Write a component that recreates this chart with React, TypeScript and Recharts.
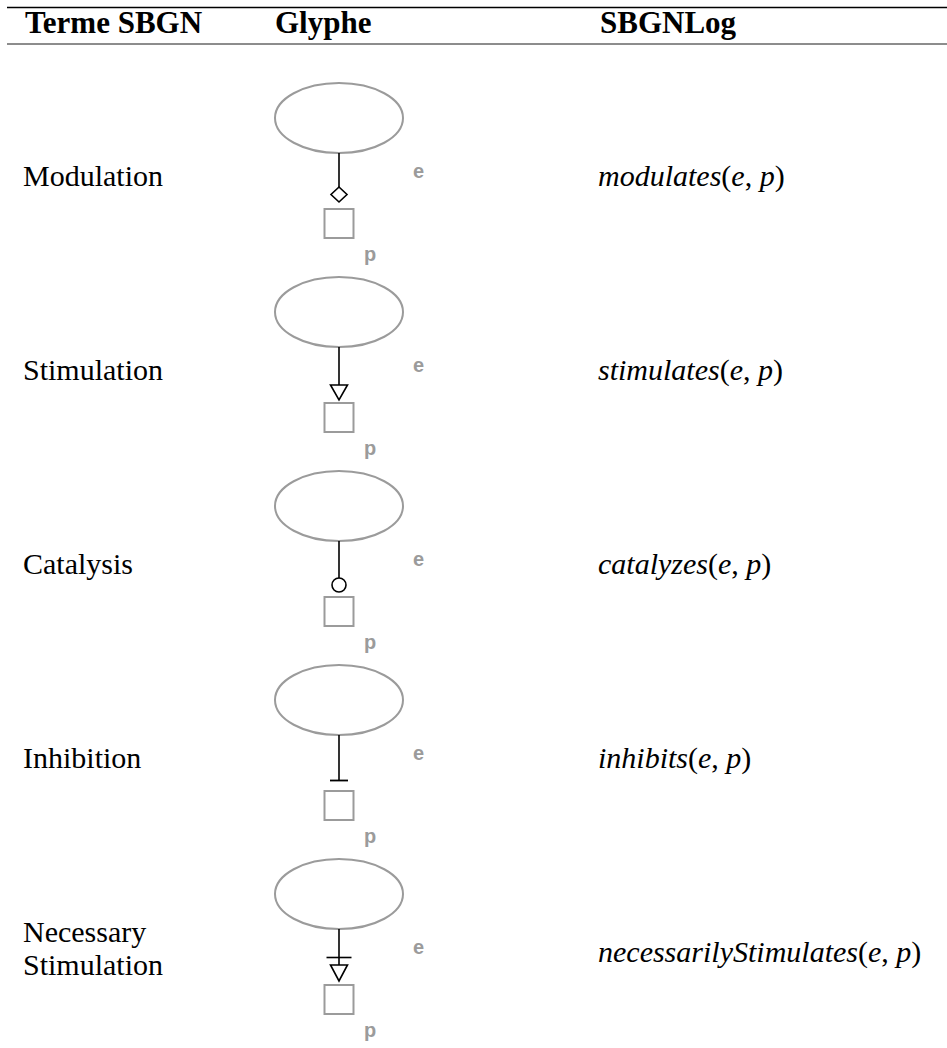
import React from "react";
import { ScatterChart, Scatter, XAxis, YAxis } from "recharts";

// table content
const headers = ["Terme SBGN", "Glyphe", "SBGNLog"];
const termLines = [
  ["Modulation"],
  ["Stimulation"],
  ["Catalysis"],
  ["Inhibition"],
  ["Necessary", "Stimulation"],
];
const predicates = ["modulates", "stimulates", "catalyzes", "inhibits", "necessarilyStimulates"];
const arcEnds = ["diamond", "triangle", "circle", "bar", "barTriangle"];
const argNames = ["e", "p"];

// layout
const W = 947;
const H = 1048;
const HEAD_H = 44;
const ROW_TOP = 118; // centre of first ellipse
const ROW_STEP = 194;
const HEAD_X = [25, 275, 600];
const COL_X = [23, 339, 598];
const SERIF = "'Liberation Serif', 'DejaVu Serif', serif";
const SANS = "'Liberation Sans', Arial, sans-serif";
const GRAY = "#9b9b9b";

const yDomain = [
  -(ROW_TOP - HEAD_H) / ROW_STEP,
  -(ROW_TOP - HEAD_H) / ROW_STEP + (H - HEAD_H) / ROW_STEP,
];

const rows = predicates.map((p, i) => ({ row: i, lines: termLines[i], pred: p, end: arcEnds[i] }));
const termData = rows.map((r) => ({ ...r, x: COL_X[0] }));
const glyphData = rows.map((r) => ({ ...r, x: COL_X[1] }));
const logData = rows.map((r) => ({ ...r, x: COL_X[2] }));

function HeaderTick(props: any) {
  const { x, index } = props;
  return (
    <g>
      {index === 0 && <line x1={7} x2={W} y1={7.5} y2={7.5} stroke="#000" strokeWidth={1.4} />}
      <text x={x} y={33} fontFamily={SERIF} fontWeight="bold" fontSize={31} fill="#000">
        {headers[index]}
      </text>
    </g>
  );
}

function TermShape(props: any) {
  const { cx, cy, payload } = props;
  const lines: string[] = payload.lines;
  const base = lines.length > 1 ? cy + 48 : cy + 68;
  return (
    <text x={cx} y={base} fontFamily={SERIF} fontSize={30} fill="#000">
      {lines.map((l, i) => (
        <tspan key={i} x={cx} dy={i === 0 ? 0 : 33}>{l}</tspan>
      ))}
    </text>
  );
}

function LogShape(props: any) {
  const { cx, cy, payload } = props;
  return (
    <text x={cx} y={cy + 68} fontFamily={SERIF} fontSize={30} fill="#000">
      <tspan fontStyle="italic">{payload.pred}</tspan>
      <tspan>(</tspan>
      <tspan fontStyle="italic">{argNames[0]}</tspan>
      <tspan>, </tspan>
      <tspan fontStyle="italic">{argNames[1]}</tspan>
      <tspan>)</tspan>
    </text>
  );
}

function GlyphShape(props: any) {
  const { cx, cy, payload } = props;
  const end: string = payload.end;
  const stemStart = cy + 35;
  let stemEnd = cy + 72;
  let marker: React.ReactNode = null;
  const ink = { stroke: "#000", strokeWidth: 1.6, fill: "#fff" };
  if (end === "diamond") {
    stemEnd = cy + 69;
    marker = (
      <polygon points={`${cx},${cy + 69} ${cx + 8},${cy + 76.5} ${cx},${cy + 84} ${cx - 8},${cy + 76.5}`} {...ink} />
    );
  } else if (end === "triangle") {
    stemEnd = cy + 73;
    marker = <polygon points={`${cx - 8.5},${cy + 73} ${cx + 8.5},${cy + 73} ${cx},${cy + 88}`} {...ink} />;
  } else if (end === "circle") {
    stemEnd = cy + 72;
    marker = <circle cx={cx} cy={cy + 79} r={7} {...ink} />;
  } else if (end === "bar") {
    stemEnd = cy + 80.5;
    marker = <line x1={cx - 9} x2={cx + 9} y1={cy + 80.5} y2={cy + 80.5} stroke="#000" strokeWidth={1.8} />;
  } else {
    stemEnd = cy + 71;
    marker = (
      <g>
        <line x1={cx - 12.5} x2={cx + 12.5} y1={cy + 63.5} y2={cy + 63.5} stroke="#000" strokeWidth={1.6} />
        <polygon points={`${cx - 8.5},${cy + 71} ${cx + 8.5},${cy + 71} ${cx},${cy + 87}`} {...ink} />
      </g>
    );
  }
  return (
    <g>
      <ellipse cx={cx} cy={cy} rx={64} ry={35} fill="#fff" stroke={GRAY} strokeWidth={2} />
      <line x1={cx} x2={cx} y1={stemStart} y2={stemEnd} stroke="#000" strokeWidth={1.6} />
      {marker}
      <rect x={cx - 14.5} y={cy + 91} width={29} height={29} fill="#fff" stroke={GRAY} strokeWidth={2} />
      <text x={cx + 74} y={cy + 60} fontFamily={SANS} fontWeight="bold" fontSize={20} fill={GRAY}>
        {argNames[0]}
      </text>
      <text x={cx + 25} y={cy + 143} fontFamily={SANS} fontWeight="bold" fontSize={20} fill={GRAY}>
        {argNames[1]}
      </text>
    </g>
  );
}

export default function App() {
  return (
    <div style={{ width: W, height: H, background: "#fff" }}>
      <style>{"body{margin:0}"}</style>
      <ScatterChart width={W} height={H} margin={{ top: 0, right: 0, bottom: 0, left: 7 }}>
        <XAxis
          xAxisId={0}
          type="number"
          dataKey="x"
          orientation="top"
          domain={[7, W]}
          ticks={HEAD_X}
          height={HEAD_H}
          tick={<HeaderTick />}
          tickLine={false}
          axisLine={{ stroke: "#000", strokeWidth: 0.9 }}
          allowDataOverflow
          interval={0}
        />
        <YAxis type="number" dataKey="row" domain={yDomain} reversed hide allowDataOverflow />
        <Scatter data={termData} shape={<TermShape />} isAnimationActive={false} />
        <Scatter data={glyphData} shape={<GlyphShape />} isAnimationActive={false} />
        <Scatter data={logData} shape={<LogShape />} isAnimationActive={false} />
      </ScatterChart>
    </div>
  );
}
